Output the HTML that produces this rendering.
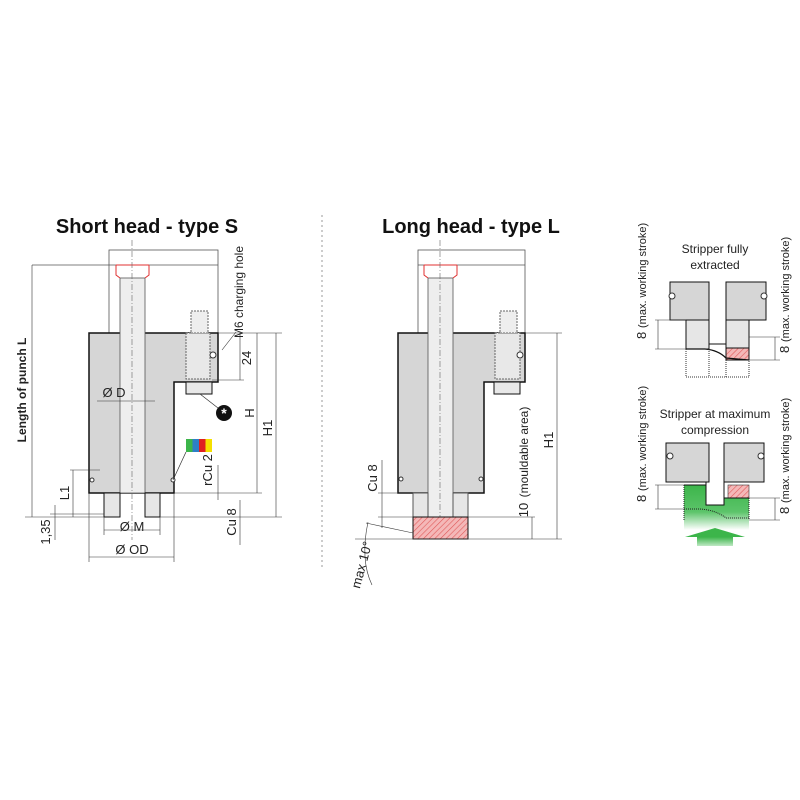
<!DOCTYPE html>
<html><head><meta charset="utf-8"><style>
html,body{margin:0;padding:0;background:#fff;}
svg{display:block;font-family:"Liberation Sans",sans-serif;}
</style></head><body>
<svg width="800" height="800" viewBox="0 0 800 800" xmlns="http://www.w3.org/2000/svg">
<defs>
<pattern id="h" width="4" height="4" patternUnits="userSpaceOnUse" patternTransform="rotate(45)">
<rect width="4" height="4" fill="#f4b8b8"/><line x1="0" y1="0" x2="0" y2="4" stroke="#e05a5a" stroke-width="1.2"/></pattern>
<linearGradient id="g" x1="0" y1="0" x2="0" y2="1"><stop offset="0" stop-color="#3cb54a"/><stop offset="0.6" stop-color="#5cc46a"/><stop offset="1" stop-color="#fff"/></linearGradient>
<linearGradient id="ga" x1="0" y1="0" x2="0" y2="1"><stop offset="0" stop-color="#3cb54a"/><stop offset="1" stop-color="#bfe8c4"/></linearGradient>
</defs>
<g font-weight="bold" font-size="20" fill="#111" text-anchor="middle">
<text x="147" y="233">Short head - type S</text>
<text x="471" y="233">Long head - type L</text>
</g>
<line x1="322" y1="215" x2="322" y2="570" stroke="#999" stroke-dasharray="2,3"/>

<!-- LEFT -->
<g stroke="#555" stroke-width="0.8" fill="none">
<rect x="109" y="250" width="109" height="83"/>
<line x1="32" y1="265" x2="218" y2="265"/>
</g>
<path d="M89 333H218V382H174V493H89Z" fill="#d6d6d6" stroke="#111" stroke-width="1.5"/>
<rect x="120" y="278" width="25" height="215" fill="#eee" stroke="#555" stroke-width="0.8"/>
<path d="M116 265V275L120 278M149 265V275L145 278" stroke="#e03030" fill="none"/>
<line x1="116" y1="265" x2="149" y2="265" stroke="#e03030"/>
<line x1="132" y1="240" x2="132" y2="540" stroke="#666" stroke-width="0.6" stroke-dasharray="6,2,1,2"/>
<rect x="104" y="493" width="16" height="24" fill="#e6e6e6" stroke="#111"/>
<rect x="145" y="493" width="15" height="24" fill="#e6e6e6" stroke="#111"/>
<rect x="186" y="333" width="24" height="46" fill="#e8e8e8" stroke="#666" stroke-dasharray="2,1"/>
<rect x="191" y="311" width="17" height="22" fill="#eee" stroke="#666" stroke-dasharray="2,1"/>
<circle cx="213" cy="355" r="3" fill="#fff" stroke="#333"/>
<rect x="186" y="382" width="26" height="12" fill="#e8e8e8" stroke="#111"/>
<circle cx="224" cy="413" r="8" fill="#111"/>
<text x="224" y="418" fill="#fff" font-size="14" font-weight="bold" text-anchor="middle">*</text>
<line x1="200" y1="394" x2="218" y2="408" stroke="#333" stroke-width="0.7"/>
<rect x="186" y="439" width="6.5" height="13" fill="#3cb54a"/><rect x="192.5" y="439" width="6.5" height="13" fill="#2e7fc7"/>
<rect x="199" y="439" width="6.5" height="13" fill="#e02020"/><rect x="205.5" y="439" width="6.5" height="13" fill="#f5e000"/>
<circle cx="173" cy="480" r="2" fill="#fff" stroke="#333"/><circle cx="92" cy="480" r="2" fill="#fff" stroke="#333"/>
<line x1="173" y1="480" x2="186" y2="452" stroke="#333" stroke-width="0.7"/>
<g stroke="#333" stroke-width="0.6" fill="none">
<line x1="32" y1="265" x2="32" y2="517"/><line x1="25" y1="517" x2="104" y2="517"/>
<line x1="218" y1="333" x2="282" y2="333"/><line x1="276" y1="333" x2="276" y2="517"/><line x1="160" y1="517" x2="282" y2="517"/>
<line x1="174" y1="493" x2="262" y2="493"/><line x1="257" y1="333" x2="257" y2="493"/>
<line x1="212" y1="380" x2="244" y2="380"/><line x1="240" y1="333" x2="240" y2="380"/>
<line x1="70" y1="470" x2="100" y2="470"/><line x1="73" y1="470" x2="73" y2="517"/>
<line x1="55" y1="505" x2="55" y2="540"/><line x1="50" y1="514" x2="104" y2="514"/>
<line x1="104" y1="517" x2="104" y2="535"/><line x1="160" y1="517" x2="160" y2="535"/><line x1="104" y1="530" x2="160" y2="530"/>
<line x1="89" y1="493" x2="89" y2="562"/><line x1="174" y1="493" x2="174" y2="562"/><line x1="89" y1="557" x2="174" y2="557"/>
<line x1="218" y1="465" x2="218" y2="500"/><line x1="240" y1="500" x2="240" y2="545"/>
<line x1="97" y1="401" x2="155" y2="401"/>
<line x1="222" y1="350" x2="236" y2="332"/>
</g>
<g font-size="13" fill="#222" text-anchor="middle">
<text x="114" y="397">Ø D</text>
<text x="132" y="531">Ø M</text>
<text x="132" y="554">Ø OD</text>
<text transform="translate(251,358) rotate(-90)">24</text>
<text transform="translate(272,428) rotate(-90)">H1</text>
<text transform="translate(254,413) rotate(-90)" font-size="13">H</text>
<text transform="translate(69,493) rotate(-90)">L1</text>
<text transform="translate(50,532) rotate(-90)">1,35</text>
<text transform="translate(212,470) rotate(-90)">rCu 2</text>
<text transform="translate(236,522) rotate(-90)">Cu 8</text>
<text transform="translate(243,292) rotate(-90)" font-size="12">M6 charging hole</text>
<text transform="translate(26,390) rotate(-90)" font-weight="bold" font-size="12">Length of punch L</text>
</g>

<!-- MIDDLE -->
<g stroke="#555" stroke-width="0.8" fill="none">
<rect x="418" y="250" width="107" height="83"/><line x1="418" y1="265" x2="525" y2="265"/>
</g>
<path d="M398 333H525V382H484V493H398Z" fill="#d6d6d6" stroke="#111" stroke-width="1.5"/>
<rect x="428" y="278" width="25" height="239" fill="#eee" stroke="#555" stroke-width="0.8"/>
<path d="M424 265V275L428 278M457 265V275L453 278M424 265H457" stroke="#e03030" fill="none"/>
<line x1="440" y1="240" x2="440" y2="517" stroke="#666" stroke-width="0.6" stroke-dasharray="6,2,1,2"/>
<rect x="413" y="493" width="15" height="24" fill="#e6e6e6" stroke="#555"/>
<rect x="453" y="493" width="15" height="24" fill="#e6e6e6" stroke="#555"/>
<rect x="413" y="517" width="55" height="22" fill="url(#h)" stroke="#111"/>
<rect x="495" y="333" width="25" height="46" fill="#e8e8e8" stroke="#666" stroke-dasharray="2,1"/>
<rect x="500" y="311" width="17" height="22" fill="#eee" stroke="#666" stroke-dasharray="2,1"/>
<circle cx="520" cy="355" r="3" fill="#fff" stroke="#333"/>
<rect x="494" y="382" width="26" height="12" fill="#e8e8e8" stroke="#111"/>
<circle cx="401" cy="479" r="2" fill="#fff" stroke="#333"/><circle cx="481" cy="479" r="2" fill="#fff" stroke="#333"/>
<g stroke="#333" stroke-width="0.6" fill="none">
<line x1="525" y1="333" x2="562" y2="333"/><line x1="557" y1="333" x2="557" y2="539"/>
<line x1="355" y1="539" x2="562" y2="539"/><line x1="468" y1="517" x2="535" y2="517"/><line x1="532" y1="517" x2="532" y2="539"/>
<line x1="378" y1="493" x2="413" y2="493"/><line x1="378" y1="517" x2="413" y2="517"/><line x1="382" y1="460" x2="382" y2="528"/>
<line x1="366" y1="523" x2="413" y2="533"/>
<path d="M368 522Q360 560 372 585"/>
</g>
<g font-size="13" fill="#222" text-anchor="middle">
<text transform="translate(553,440) rotate(-90)">H1</text>
<text transform="translate(528,510) rotate(-90)">10</text>
<text transform="translate(528,452) rotate(-90)" font-size="12">(mouldable area)</text>
<text transform="translate(377,478) rotate(-90)">Cu 8</text>
<text transform="translate(366,566) rotate(-75)">max 10°</text>
</g>

<!-- RIGHT -->
<g font-size="12" fill="#222" text-anchor="middle">
<text x="715" y="253">Stripper fully</text><text x="715" y="269">extracted</text>
<text x="715" y="418">Stripper at maximum</text><text x="715" y="434">compression</text>
</g>
<g fill="#222" text-anchor="start">
<text transform="translate(646,339) rotate(-90)" font-size="13">8</text>
<text transform="translate(646,328) rotate(-90)" font-size="11">(max. working stroke)</text>
<text transform="translate(789,353) rotate(-90)" font-size="13">8</text>
<text transform="translate(789,342) rotate(-90)" font-size="11">(max. working stroke)</text>
<text transform="translate(646,502) rotate(-90)" font-size="13">8</text>
<text transform="translate(646,491) rotate(-90)" font-size="11">(max. working stroke)</text>
<text transform="translate(789,514) rotate(-90)" font-size="13">8</text>
<text transform="translate(789,503) rotate(-90)" font-size="11">(max. working stroke)</text>
</g>
<rect x="670" y="282" width="39" height="38" fill="#d6d6d6" stroke="#111"/>
<rect x="726" y="282" width="40" height="38" fill="#d6d6d6" stroke="#111"/>
<circle cx="672" cy="296" r="3" fill="#fff" stroke="#333"/><circle cx="764" cy="296" r="3" fill="#fff" stroke="#333"/>
<rect x="686" y="320" width="23" height="29" fill="#e6e6e6" stroke="#111"/>
<rect x="726" y="320" width="23" height="28" fill="#e6e6e6" stroke="#111"/>
<rect x="726" y="348" width="23" height="12" fill="url(#h)" stroke="#111"/>
<line x1="709" y1="344" x2="726" y2="344" stroke="#111"/>
<path d="M686 349H705Q718 350 726 358L749 360" stroke="#111" stroke-width="1.3" fill="none"/>
<path d="M686 349V377H749V360M709 349V377M726 360V377" stroke="#333" stroke-dasharray="1,1" fill="none"/>
<g stroke="#333" stroke-width="0.6"><line x1="655" y1="320" x2="686" y2="320"/><line x1="655" y1="349" x2="686" y2="349"/><line x1="658" y1="320" x2="658" y2="349"/>
<line x1="749" y1="337" x2="780" y2="337"/><line x1="749" y1="360" x2="780" y2="360"/><line x1="775" y1="337" x2="775" y2="360"/></g>

<path d="M684 485H706V505H724V498H749V530H684Z" fill="url(#g)"/>
<rect x="666" y="443" width="43" height="39" fill="#d6d6d6" stroke="#111"/>
<rect x="724" y="443" width="40" height="39" fill="#d6d6d6" stroke="#111"/>
<circle cx="670" cy="456" r="3" fill="#fff" stroke="#333"/><circle cx="761" cy="456" r="3" fill="#fff" stroke="#333"/>
<rect x="728" y="485" width="21" height="13" fill="url(#h)" stroke="#333" stroke-width="0.6"/>
<path d="M684 485H705M684 485V520M749 498V520" stroke="#222" stroke-dasharray="1,1" fill="none"/>
<path d="M684 509H700Q716 510 726 518H749" stroke="#222" stroke-dasharray="1,1" fill="none"/>
<path d="M706 482V505H724V482" stroke="#111" fill="none"/>
<line x1="684" y1="485" x2="706" y2="485" stroke="#111"/>
<line x1="724" y1="498" x2="749" y2="498" stroke="#111"/>
<path d="M685 537L715 528L745 537Z" fill="#3cb54a"/>
<rect x="697" y="537" width="36" height="9" fill="url(#ga)"/>
<g stroke="#333" stroke-width="0.6"><line x1="655" y1="485" x2="684" y2="485"/><line x1="655" y1="509" x2="684" y2="509"/><line x1="658" y1="485" x2="658" y2="509"/>
<line x1="749" y1="498" x2="780" y2="498"/><line x1="749" y1="520" x2="780" y2="520"/><line x1="775" y1="498" x2="775" y2="520"/></g>
</svg>
</body></html>
